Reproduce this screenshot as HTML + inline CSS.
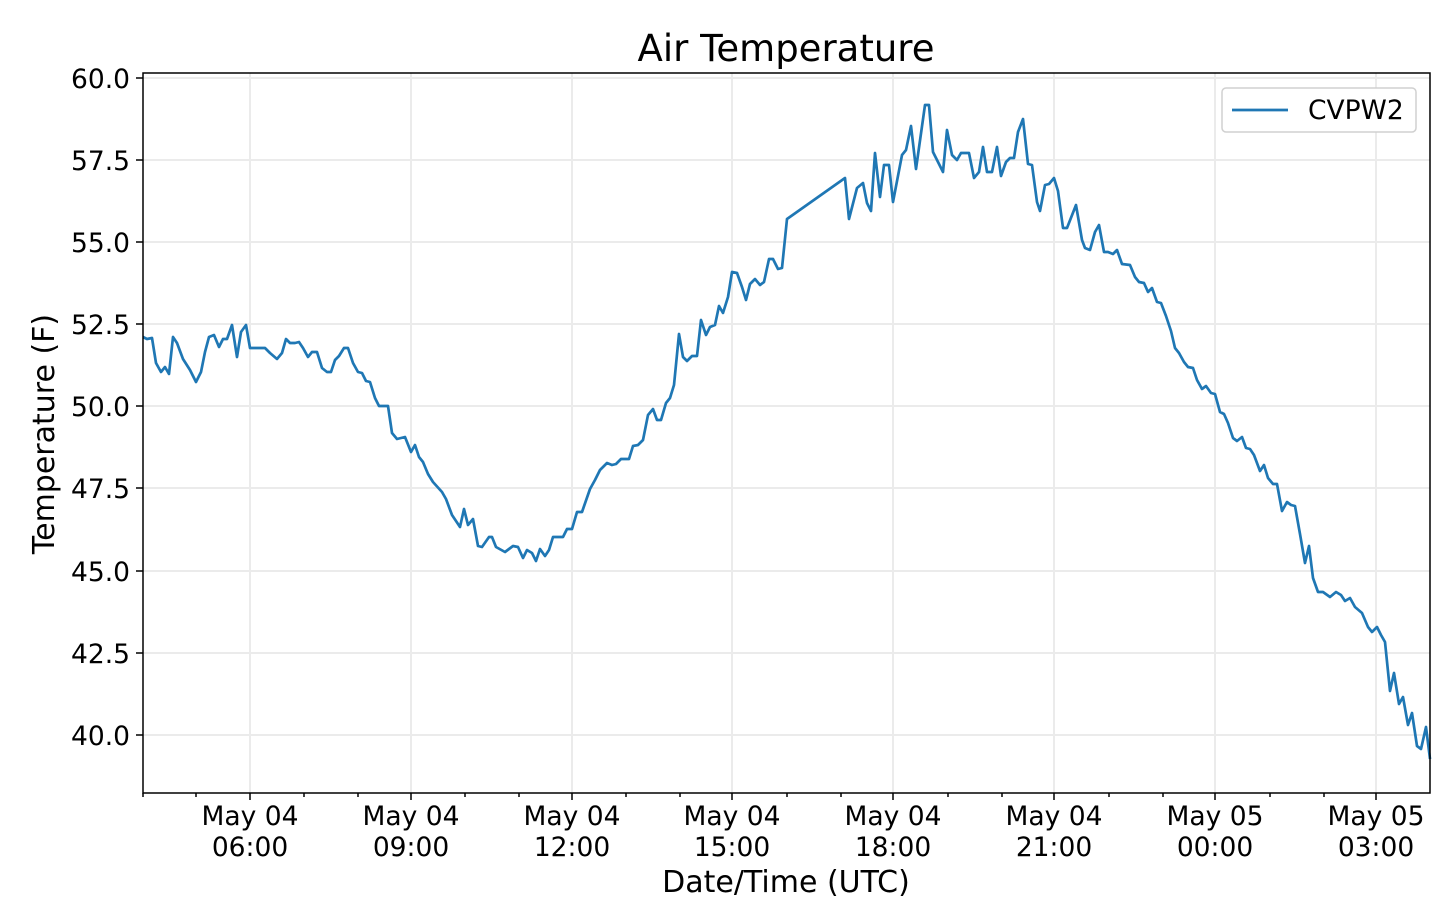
<!DOCTYPE html>
<html><head><meta charset="utf-8"><style>body{margin:0;background:#fff}svg{display:block}text{font-family:"DejaVu Sans","Liberation Sans",sans-serif;fill:#000}</style></head>
<body>
<svg width="1434" height="918" viewBox="0 0 1434 918" xmlns="http://www.w3.org/2000/svg">
<rect width="1434" height="918" fill="#fff"/>
<g stroke="#ebebeb" stroke-width="2">
<line x1="143" x2="1430" y1="78" y2="78"/><line x1="143" x2="1430" y1="160" y2="160"/><line x1="143" x2="1430" y1="242" y2="242"/><line x1="143" x2="1430" y1="324" y2="324"/><line x1="143" x2="1430" y1="406" y2="406"/><line x1="143" x2="1430" y1="488" y2="488"/><line x1="143" x2="1430" y1="571" y2="571"/><line x1="143" x2="1430" y1="653" y2="653"/><line x1="143" x2="1430" y1="735" y2="735"/>
<line y1="73" y2="793" x1="250" x2="250"/><line y1="73" y2="793" x1="411" x2="411"/><line y1="73" y2="793" x1="572" x2="572"/><line y1="73" y2="793" x1="732" x2="732"/><line y1="73" y2="793" x1="893" x2="893"/><line y1="73" y2="793" x1="1054" x2="1054"/><line y1="73" y2="793" x1="1215" x2="1215"/><line y1="73" y2="793" x1="1376" x2="1376"/>
</g>
<polyline fill="none" stroke="#1f77b4" stroke-width="2.7" stroke-linejoin="round" points="143,337 147,339 152,338 156,363 161,372 165,367 169,374 173,337 177,343 183,359 190,370 196,382 201,372 205,352 209,337 214,335 219,347 223,339 227,339 232,325 237,357 241,332 246,325 250,348 265,348 270,353 277,359 282,353 286,339 290,343 295,343 299,342 303,348 308,357 312,352 317,352 322,368 327,372 331,372 335,360 339,356 344,348 348,348 353,363 358,372 362,373 366,381 370,382 375,398 379,406 388,406 392,433 397,439 405,437 411,452 415,445 419,457 423,462 428,474 433,482 442,492 446,499 452,515 460,527 464,509 468,525 473,519 478,546 482,547 489,537 492,537 496,547 505,552 513,546 518,547 523,558 527,550 532,553 536,561 540,549 545,556 549,550 553,537 563,537 567,529 572,529 577,512 582,512 590,489 595,480 600,470 603,467 607,463 612,465 616,464 621,459 629,459 633,446 638,445 643,440 648,415 653,409 657,420 661,420 666,403 670,398 674,385 679,334 683,357 687,361 692,356 697,356 701,320 706,335 710,327 715,325 719,306 723,313 728,297 732,272 737,273 742,287 746,300 750,284 755,279 760,285 764,282 769,259 773,259 778,269 782,268 787,219 845,178 849,219 857,188 863,183 867,203 871,211 875,153 880,197 884,165 889,165 893,202 902,155 906,150 911,126 916,169 925,105 929,105 933,152 943,172 947,130 952,155 957,160 961,153 969,153 974,178 979,172 983,147 987,172 992,172 997,147 1001,176 1006,162 1010,158 1014,158 1018,132 1023,119 1028,164 1032,165 1037,202 1040,211 1045,185 1049,184 1054,178 1058,191 1063,228 1067,228 1076,205 1082,240 1085,248 1090,250 1095,232 1099,225 1104,252 1108,252 1113,254 1117,250 1122,264 1130,265 1135,277 1139,282 1144,283 1148,292 1152,288 1157,302 1161,303 1166,316 1171,331 1175,348 1179,353 1184,362 1188,367 1193,368 1197,380 1202,389 1206,386 1211,393 1215,394 1220,412 1224,414 1228,423 1233,438 1237,441 1242,437 1246,448 1250,449 1254,455 1260,471 1264,465 1268,478 1273,484 1277,484 1282,511 1287,502 1291,505 1295,506 1300,534 1305,563 1309,546 1313,578 1318,592 1323,592 1330,597 1336,592 1341,595 1345,601 1350,598 1355,607 1362,613 1368,627 1372,632 1377,627 1381,635 1385,642 1390,691 1394,673 1399,704 1403,697 1408,725 1412,713 1417,746 1421,749 1426,727 1430,759"/>
<rect x="143" y="73" width="1287" height="720" fill="none" stroke="#000" stroke-width="1.5"/>
<g stroke="#000" stroke-width="1.5">
<line x1="136" x2="143" y1="78" y2="78"/><line x1="136" x2="143" y1="160" y2="160"/><line x1="136" x2="143" y1="242" y2="242"/><line x1="136" x2="143" y1="324" y2="324"/><line x1="136" x2="143" y1="406" y2="406"/><line x1="136" x2="143" y1="488" y2="488"/><line x1="136" x2="143" y1="571" y2="571"/><line x1="136" x2="143" y1="653" y2="653"/><line x1="136" x2="143" y1="735" y2="735"/>
<line y1="793" y2="800" x1="250" x2="250"/><line y1="793" y2="800" x1="411" x2="411"/><line y1="793" y2="800" x1="572" x2="572"/><line y1="793" y2="800" x1="732" x2="732"/><line y1="793" y2="800" x1="893" x2="893"/><line y1="793" y2="800" x1="1054" x2="1054"/><line y1="793" y2="800" x1="1215" x2="1215"/><line y1="793" y2="800" x1="1376" x2="1376"/>
<line y1="793" y2="797" x1="143" x2="143"/><line y1="793" y2="797" x1="196" x2="196"/><line y1="793" y2="797" x1="304" x2="304"/><line y1="793" y2="797" x1="358" x2="358"/><line y1="793" y2="797" x1="465" x2="465"/><line y1="793" y2="797" x1="519" x2="519"/><line y1="793" y2="797" x1="626" x2="626"/><line y1="793" y2="797" x1="680" x2="680"/><line y1="793" y2="797" x1="787" x2="787"/><line y1="793" y2="797" x1="841" x2="841"/><line y1="793" y2="797" x1="948" x2="948"/><line y1="793" y2="797" x1="1002" x2="1002"/><line y1="793" y2="797" x1="1109" x2="1109"/><line y1="793" y2="797" x1="1163" x2="1163"/><line y1="793" y2="797" x1="1270" x2="1270"/><line y1="793" y2="797" x1="1324" x2="1324"/>
</g>
<g font-size="26.5" text-anchor="end">
<text x="130" y="88">60.0</text><text x="130" y="170">57.5</text><text x="130" y="252">55.0</text><text x="130" y="334">52.5</text><text x="130" y="416">50.0</text><text x="130" y="498">47.5</text><text x="130" y="581">45.0</text><text x="130" y="663">42.5</text><text x="130" y="745">40.0</text>
</g>
<g font-size="26.5" text-anchor="middle">
<text x="250" y="825">May 04</text><text x="250" y="856">06:00</text>
<text x="411" y="825">May 04</text><text x="411" y="856">09:00</text>
<text x="572" y="825">May 04</text><text x="572" y="856">12:00</text>
<text x="732" y="825">May 04</text><text x="732" y="856">15:00</text>
<text x="893" y="825">May 04</text><text x="893" y="856">18:00</text>
<text x="1054" y="825">May 04</text><text x="1054" y="856">21:00</text>
<text x="1215" y="825">May 05</text><text x="1215" y="856">00:00</text>
<text x="1376" y="825">May 05</text><text x="1376" y="856">03:00</text>
</g>
<text x="786" y="892" font-size="30" text-anchor="middle">Date/Time (UTC)</text>
<text x="786" y="61" font-size="37" text-anchor="middle">Air Temperature</text>
<text transform="translate(54,434) rotate(-90)" font-size="30" text-anchor="middle">Temperature (F)</text>
<rect x="1222" y="88" width="194" height="44" rx="4" fill="#fff" stroke="#d0d0d0" stroke-width="1.5"/>
<line x1="1232" x2="1288" y1="110" y2="110" stroke="#1f77b4" stroke-width="2.7"/>
<text x="1308" y="119" font-size="26.5">CVPW2</text>
</svg>
</body></html>
